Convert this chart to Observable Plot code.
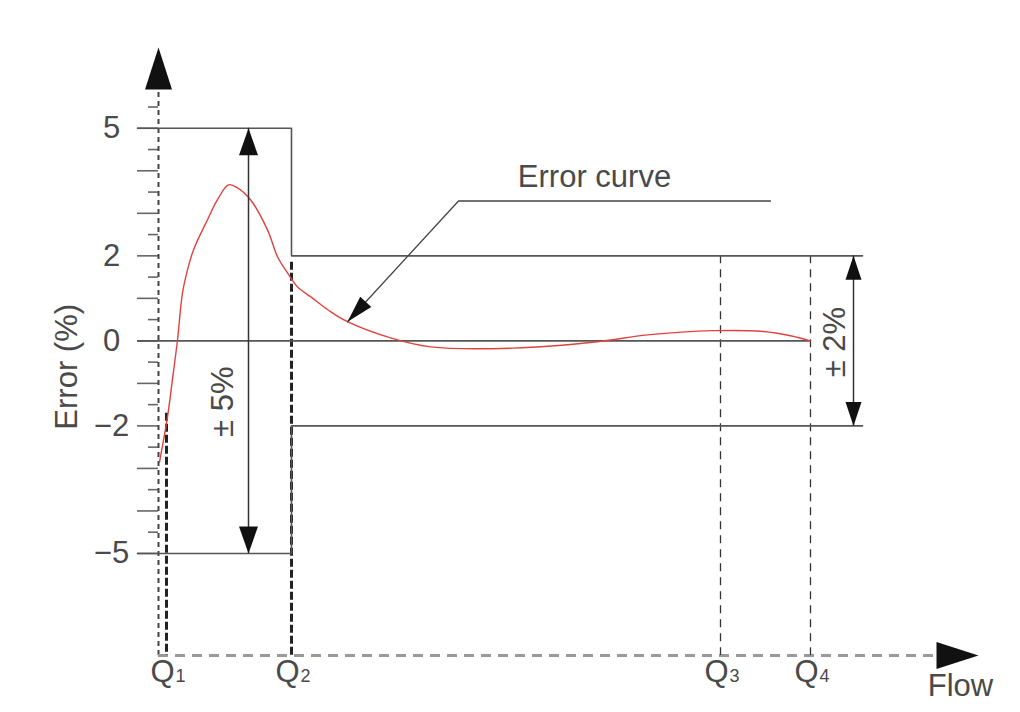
<!DOCTYPE html>
<html>
<head>
<meta charset="utf-8">
<script src="https://cdn.jsdelivr.net/npm/d3@7"></script>
<script src="https://cdn.jsdelivr.net/npm/@observablehq/plot@0.6"></script>
<style>
  html, body { margin: 0; padding: 0; background: #ffffff; }
  #chart svg { display: block; }
</style>
</head>
<body>
<div id="chart"></div>
<script>
// ---- data ----
const errFlow  = [0.1, 0.9, 1.4, 1.9, 2.4, 2.9, 3.5, 4.9, 5.9, 7.0, 7.9, 9.2, 10.9, 11.9, 12.9, 13.9, 15.2, 17.0, 18.9, 23.2, 27.2, 35.5, 43.9, 48.9, 55.5, 60.5, 63.2, 65.2];
const errValue = [-2.85, -1.79, -0.9, 0.02, 1.13, 1.67, 2.14, 2.85, 3.32, 3.67, 3.6, 3.32, 2.61, 1.98, 1.6, 1.27, 1.04, 0.72, 0.45, 0.07, -0.14, -0.17, -0.02, 0.14, 0.24, 0.22, 0.12, 0.0];

const qNames = ["Q1", "Q2", "Q3", "Q4"];
const qFlow  = [0.8, 13.3, 56.2, 65.2];

const lowZoneLimit  = 5;   // ± 5 % between Q1 and Q2
const highZoneLimit = 2;   // ± 2 % between Q2 and Q4
const bandStart = -2.1;    // lines start left of the axis
const bandEnd   = 70.4;

const yTickLabels = [5, 2, 0, -2, -5];
const yMajorTicks = [-5, -4, -3, -2, -1, 0, 1, 2, 3, 4, 5];
const yMinorTicks = [-4.5, -3.5, -2.5, -1.5, -0.5, 0.5, 1.5, 2.5, 3.5, 4.5, 5.5];

const xDomain = [0, 82];
const yDomain = [-7.4, 6.9];

// annotation anchors (data units)
const leaderPath = [{x: 61.2, y: 3.29}, {x: 30.0, y: 3.29}, {x: 18.9, y: 0.45}];
const curveLabel = {x: 43.6, y: 3.62, text: "Error curve"};
const wideArrowX = 9.0;
const narrowArrowX = 69.5;

// ---- layout ----
const W = 1020, H = 712;
const mL = 158, mR = 42, mT = 47, mB = 57;
const kx = (W - mL - mR) / (xDomain[1] - xDomain[0]);
const ky = (H - mT - mB) / (yDomain[1] - yDomain[0]);

function tri(w, h) {
  return {draw(ctx) { ctx.moveTo(0, 0); ctx.lineTo(w / 2, h); ctx.lineTo(-w / 2, h); ctx.closePath(); }};
}
const axisHead = tri(27, 42);
const bigHead = tri(19, 27);
const smallHead = tri(16, 24);
const leaderHead = tri(15, 27);

const tip = leaderPath[2], prev = leaderPath[1];
const ldx = (tip.x - prev.x) * kx, ldy = -(tip.y - prev.y) * ky;
const leaderAngle = Math.atan2(ldx, -ldy) * 180 / Math.PI;

const fmt = d => d < 0 ? "\u2212" + (-d) : String(d);
const ink = "#555";
const textInk = "#4a4a4a";

const curve = errFlow.map((x, i) => ({x, y: errValue[i]}));
const upper = [{x: bandStart, y: lowZoneLimit}, {x: qFlow[1], y: lowZoneLimit}, {x: qFlow[1], y: highZoneLimit}, {x: bandEnd, y: highZoneLimit}];
const lower = upper.map(d => ({x: d.x, y: -d.y}));

const chart = Plot.plot({
  width: W, height: H,
  marginLeft: mL, marginRight: mR, marginTop: mT, marginBottom: mB,
  x: {domain: xDomain, axis: null},
  y: {domain: yDomain},
  style: {fontFamily: "'Liberation Sans', Arial, sans-serif", fontSize: "31px", background: "#ffffff", overflow: "visible"},
  marks: [
    // y axis minor/major ticks (no labels)
    Plot.axisY({ticks: yMinorTicks, tickSize: 10, fill: "none", label: null, stroke: "#666", strokeWidth: 1.6}),
    Plot.axisY({ticks: yMajorTicks, tickSize: 21, fill: "none", label: null, stroke: "#666", strokeWidth: 1.6}),
    // y tick labels
    Plot.text(yTickLabels, {y: d => d, text: fmt, frameAnchor: "left", dx: -47, textAnchor: "middle", lineAnchor: "middle", fill: textInk}),
    // dashed axes
    Plot.ruleX([0], {y1: yDomain[0], y2: 6.0, stroke: "#444", strokeWidth: 2, strokeDasharray: "5,4"}),
    Plot.ruleY([yDomain[0]], {x1: 0, x2: 77.5, stroke: "#9a9a9a", strokeWidth: 3, strokeDasharray: "10,7"}),
    // Q dashed verticals
    Plot.ruleX([qFlow[0]], {y1: -1.7, y2: yDomain[0], stroke: "#222", strokeWidth: 3, strokeDasharray: "8,3"}),
    Plot.ruleX([qFlow[1]], {y1: 1.85, y2: yDomain[0], stroke: "#222", strokeWidth: 3, strokeDasharray: "8,3"}),
    Plot.ruleX([qFlow[2], qFlow[3]], {y1: highZoneLimit, y2: yDomain[0], stroke: "#333", strokeWidth: 1.3, strokeDasharray: "8,6"}),
    // tolerance band and zero line
    Plot.line(upper, {x: "x", y: "y", stroke: ink, strokeWidth: 1.6, curve: "linear"}),
    Plot.line(lower, {x: "x", y: "y", stroke: ink, strokeWidth: 1.6, curve: "linear"}),
    Plot.ruleY([0], {x1: bandStart, x2: qFlow[3], stroke: ink, strokeWidth: 1.6}),
    // error curve
    Plot.line(curve, {x: "x", y: "y", stroke: "#e2423e", strokeWidth: 1.4, curve: "catmull-rom"}),
    // ±5% and ±2% double arrows
    Plot.ruleX([wideArrowX], {y1: -lowZoneLimit, y2: lowZoneLimit, stroke: "#333", strokeWidth: 1.5}),
    Plot.dot([lowZoneLimit, -lowZoneLimit], {x: wideArrowX, y: d => d, symbol: bigHead, rotate: d => d > 0 ? 0 : 180, fill: "#111", stroke: "none"}),
    Plot.ruleX([narrowArrowX], {y1: -highZoneLimit, y2: highZoneLimit, stroke: "#333", strokeWidth: 1.5}),
    Plot.dot([highZoneLimit, -highZoneLimit], {x: narrowArrowX, y: d => d, symbol: smallHead, rotate: d => d > 0 ? 0 : 180, fill: "#111", stroke: "none"}),
    Plot.text(["\u00b1 5%"], {x: 6.5, y: -1.43, rotate: -90, textAnchor: "middle", lineAnchor: "middle", fill: textInk}),
    Plot.text(["\u00b1 2%"], {x: 67.7, y: -0.03, rotate: -90, textAnchor: "middle", lineAnchor: "middle", fill: textInk}),
    // leader to error curve
    Plot.line(leaderPath, {x: "x", y: "y", stroke: "#444", strokeWidth: 1.3}),
    Plot.dot([tip], {x: "x", y: "y", symbol: leaderHead, rotate: leaderAngle, fill: "#111", stroke: "none"}),
    Plot.text([curveLabel], {x: "x", y: "y", text: "text", textAnchor: "middle", lineAnchor: "bottom", fill: textInk}),
    // axis arrowheads
    Plot.dot([yDomain[1]], {x: 0, y: d => d, symbol: axisHead, fill: "#111", stroke: "none"}),
    Plot.dot([xDomain[1]], {x: d => d, y: yDomain[0], symbol: axisHead, rotate: 90, fill: "#111", stroke: "none"}),
    // axis titles
    Plot.text(["Error (%)"], {y: -0.61, frameAnchor: "left", dx: -91, rotate: -90, textAnchor: "middle", lineAnchor: "middle", fill: textInk}),
    Plot.text(["Flow"], {frameAnchor: "bottom-right", dx: -18, dy: 40, textAnchor: "middle", lineAnchor: "bottom", fill: textInk}),
    // Q labels
    Plot.text(qNames, {x: (d, i) => qFlow[i], text: d => d[0], frameAnchor: "bottom", dx: 8, dy: 26, textAnchor: "end", lineAnchor: "bottom", fill: textInk}),
    Plot.text(qNames, {x: (d, i) => qFlow[i], text: d => d.slice(1), frameAnchor: "bottom", dx: 9, dy: 26, textAnchor: "start", lineAnchor: "bottom", fontSize: 18, fill: textInk})
  ]
});
document.getElementById("chart").appendChild(chart);
</script>
</body>
</html>
